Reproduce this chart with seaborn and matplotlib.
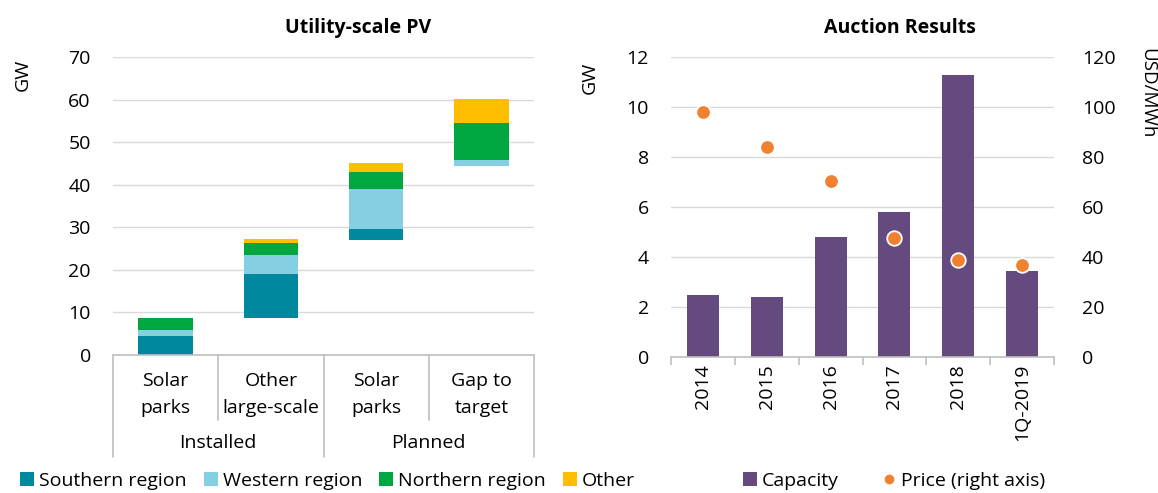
import matplotlib
matplotlib.use("Agg")
import matplotlib.pyplot as plt
import matplotlib.transforms as mtransforms
from matplotlib.patches import Patch
from matplotlib.lines import Line2D
import numpy as np
import pandas as pd
import seaborn as sns

# ---------------- data ----------------
categories = ["Solar\nparks", "Other\nlarge-scale", "Solar\nparks", "Gap to\ntarget"]
category_group = ["Installed", "Installed", "Planned", "Planned"]
groups = ["Installed", "Planned"]
base = [0.0, 8.6, 27.0, 44.4]
southern = [4.5, 10.5, 2.5, 0.0]
western = [1.3, 4.4, 9.5, 1.3]
northern = [3.0, 2.7, 3.9, 8.7]
other = [0.0, 1.0, 2.3, 5.7]
region_names = ["Southern region", "Western region", "Northern region", "Other"]
left_yticks = [0, 10, 20, 30, 40, 50, 60, 70]

years = ["2014", "2015", "2016", "2017", "2018", "1Q-2019"]
capacity = [2.5, 2.4, 4.8, 5.8, 11.3, 3.45]
price = [98, 84, 70.5, 47.5, 39, 37]
gw_ticks = [0, 2, 4, 6, 8, 10, 12]
price_ticks = [0, 20, 40, 60, 80, 100, 120]

# ---------------- style ----------------
region_colors = ["#00889E", "#85CFE2", "#00A63F", "#FFBE00"]
purple = "#654A80"
orange = "#F08131"
grid_c = "#D9D9D9"
axis_c = "#BFBFBF"

sns.set_theme(style="white")
plt.rcParams["font.family"] = ["Open Sans", "DejaVu Sans"]
plt.rcParams["font.size"] = 14
plt.rcParams["text.color"] = "black"
plt.rcParams["xtick.color"] = "black"
plt.rcParams["ytick.color"] = "black"

W, H = 1158, 493
fig = plt.figure(figsize=(W / 100, H / 100), dpi=100)
ax1 = fig.add_axes([113 / W, 1 - 355 / H, 421 / W, 298 / H])
ax2 = fig.add_axes([671 / W, 1 - 357 / H, 383 / W, 300 / H])

# ---------------- left chart: stacked floating bars ----------------
keys = [f"{g}|{c}" for g, c in zip(category_group, categories)]
bottom = np.array(base, dtype=float)
for vals, col in zip([southern, western, northern, other], region_colors):
    sns.barplot(x=keys, y=vals, bottom=bottom.copy(), color=col, width=0.52,
                saturation=1, errorbar=None, ax=ax1, linewidth=0)
    bottom = bottom + np.array(vals)

ax1.set_xlim(-0.5, 3.5)
ax1.set_ylim(0, 70)
ax1.set_yticks(left_yticks)
ax1.yaxis.grid(True, color=grid_c, linewidth=1)
ax1.xaxis.grid(False)
ax1.set_axisbelow(True)
ax1.set_xticks(range(len(categories)))
ax1.set_xticklabels(categories, linespacing=1.7)
ax1.tick_params(axis="x", length=0, pad=12, labelsize=14)
ax1.tick_params(axis="y", length=0, pad=16, labelsize=14)
ax1.set_xlabel("")
ax1.set_ylabel("")
for s in ["top", "left", "right"]:
    ax1.spines[s].set_visible(False)
ax1.spines["bottom"].set_color(axis_c)
ax1.spines["bottom"].set_linewidth(1.2)

trans = mtransforms.blended_transform_factory(ax1.transData, ax1.transAxes)
outer = {-0.5, 1.5, 3.5}
for b in [-0.5, 0.5, 1.5, 2.5, 3.5]:
    depth = 0.342 if b in outer else 0.218
    ax1.plot([b, b], [0, -depth], transform=trans, clip_on=False,
             color=axis_c, linewidth=1.2)
for i, g in enumerate(groups):
    ax1.text(0.5 + 2 * i, -0.295, g, transform=trans, ha="center", va="center",
             fontsize=14)

ax1.text(0.582, 1.097, "Utility-scale PV", transform=ax1.transAxes,
         ha="center", va="center", fontsize=14, fontweight="bold")
ax1.text(-0.214, 0.94, "GW", transform=ax1.transAxes, rotation=90,
         ha="center", va="center", fontsize=14)

# ---------------- right chart: bars + price dots ----------------
sns.barplot(x=years, y=capacity, color=purple, width=0.5, saturation=1,
            errorbar=None, ax=ax2, linewidth=0)
ax2.set_ylim(0, 12)
ax2.set_yticks(gw_ticks)
ax2.yaxis.grid(True, color=grid_c, linewidth=1)
ax2.xaxis.grid(False)
ax2.set_axisbelow(True)

ax3 = ax2.twinx()
sns.scatterplot(x=years, y=price, ax=ax3, color=orange, s=110,
                edgecolor="white", linewidth=1.3, zorder=5)
ax3.set_ylim(0, 120)
ax3.set_yticks(price_ticks)
ax3.grid(False)
ax3.set_ylabel("")
ax3.set_xlabel("")
ax3.tick_params(axis="y", length=0, pad=20, labelsize=14)
for s in ["top", "left", "right", "bottom"]:
    ax3.spines[s].set_visible(False)

ax2.set_xlim(-0.5, 5.5)
ax2.set_xticks(range(len(years)))
ax2.set_xticklabels(years, rotation=90)
ax2.set_xticks(np.arange(-0.5, len(years), 1.0), minor=True)
ax2.tick_params(axis="x", which="major", length=0, pad=5, labelsize=14)
ax2.tick_params(axis="x", which="minor", length=6, width=1.2, color=axis_c,
                direction="out", bottom=True)
ax2.tick_params(axis="y", length=0, pad=16, labelsize=14)
ax2.set_xlabel("")
ax2.set_ylabel("")
for s in ["top", "left", "right"]:
    ax2.spines[s].set_visible(False)
ax2.spines["bottom"].set_color(axis_c)
ax2.spines["bottom"].set_linewidth(1.2)

ax2.text(0.598, 1.097, "Auction Results", transform=ax2.transAxes,
         ha="center", va="center", fontsize=14, fontweight="bold")
ax2.text(-0.2115, 0.93, "GW", transform=ax2.transAxes, rotation=90,
         ha="center", va="center", fontsize=14)
ax2.text(1.243, 0.88, "USD/MWh", transform=ax2.transAxes, rotation=270,
         ha="center", va="center", fontsize=13.5)

# ---------------- legends ----------------
left_handles = [Patch(facecolor=c, edgecolor="none") for c in region_colors]
fig.legend(left_handles, region_names, loc="center left",
           bbox_to_anchor=(20 / W, 1 - 481 / H), ncol=4, frameon=False,
           handlelength=0.72, handleheight=0.72, handletextpad=0.26,
           columnspacing=0.87, borderaxespad=0, borderpad=0, fontsize=14)

right_handles = [Patch(facecolor=purple, edgecolor="none"),
                 Line2D([], [], marker="o", linestyle="none", color=orange,
                        markersize=6)]
fig.legend(right_handles, ["Capacity", "Price (right axis)"], loc="center left",
           bbox_to_anchor=(743 / W, 1 - 481 / H), ncol=2, frameon=False,
           handlelength=0.72, handleheight=0.72, handletextpad=0.26,
           columnspacing=2.2, borderaxespad=0, borderpad=0, fontsize=14)

fig.savefig("out.png", dpi=100)
